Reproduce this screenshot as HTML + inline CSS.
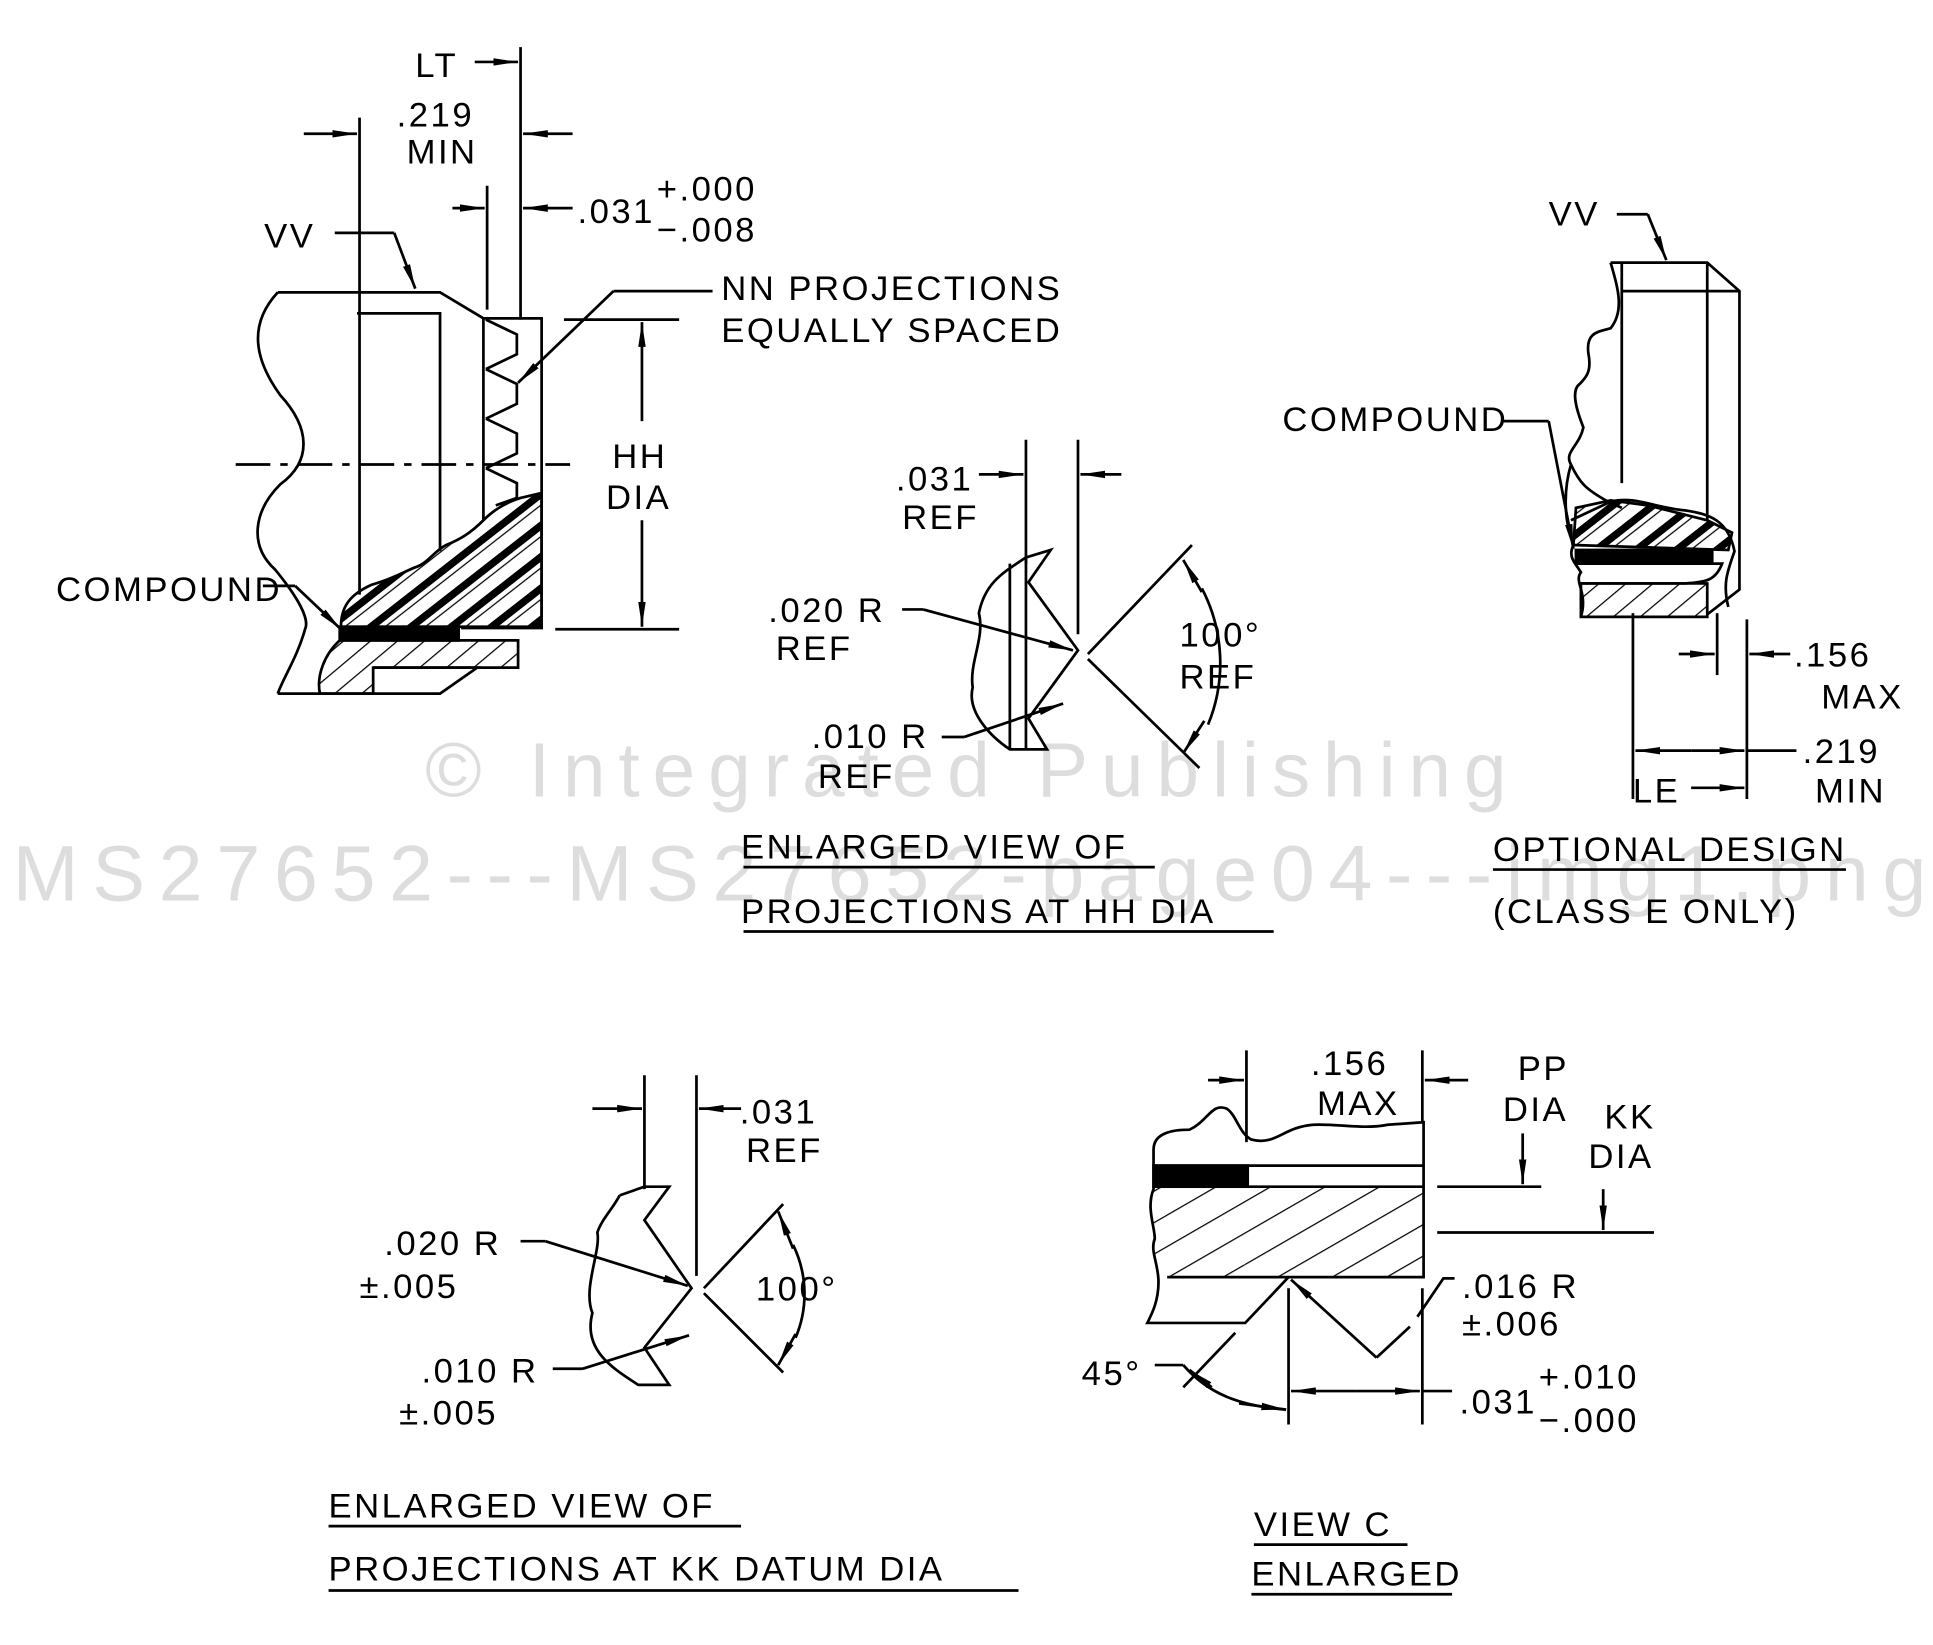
<!DOCTYPE html>
<html><head><meta charset="utf-8"><style>
html,body{margin:0;padding:0;background:#fff}
svg{display:block}
text{font-family:"Liberation Sans",sans-serif;font-size:28px;fill:#000;letter-spacing:2px}
</style></head><body>
<svg width="1933" height="1645" viewBox="0 0 1560 1328" xmlns="http://www.w3.org/2000/svg">
<defs>
<marker id="a" markerUnits="userSpaceOnUse" markerWidth="22" markerHeight="8" refX="20" refY="4" orient="auto"><path d="M0,1 L20,4 L0,7 Z" fill="#000"/></marker>
<pattern id="h1" width="14" height="14" patternUnits="userSpaceOnUse" patternTransform="rotate(-40)"><line x1="0" y1="0" x2="14" y2="0" stroke="#000" stroke-width="2"/></pattern>
<pattern id="h2" width="20" height="20" patternUnits="userSpaceOnUse" patternTransform="rotate(-38)"><rect x="0" y="0" width="20" height="6" fill="#000"/><line x1="0" y1="10" x2="20" y2="10" stroke="#000" stroke-width="1"/></pattern>
<pattern id="h3" width="22" height="22" patternUnits="userSpaceOnUse" patternTransform="rotate(-30)"><line x1="0" y1="0" x2="22" y2="0" stroke="#000" stroke-width="2"/></pattern>
</defs>
<g fill="none" stroke="#000" stroke-width="2.2">
<line x1="290" y1="95" x2="290" y2="480"/>
<line x1="420" y1="38" x2="420" y2="258"/>
<line x1="393" y1="150" x2="393" y2="250"/>
<line x1="383" y1="50" x2="418" y2="50" marker-end="url(#a)"/>
<line x1="245" y1="108" x2="288" y2="108" marker-end="url(#a)"/>
<line x1="462" y1="108" x2="422" y2="108" marker-end="url(#a)"/>
<line x1="365" y1="168" x2="391" y2="168" marker-end="url(#a)"/>
<line x1="462" y1="168" x2="422" y2="168" marker-end="url(#a)"/>
<polyline points="270,188 318,188"/><line x1="318" y1="188" x2="335" y2="233" marker-end="url(#a)"/>
<path d="M224,236 L355,236 L390,257 L437,257 L437,507 L372,507"/>
<polyline points="288,253 355,253 355,445"/>
<line x1="390" y1="257" x2="390" y2="420"/>
<path d="M392,258 L417,270 L417,286 L392,298 M392,298 L417,310 L417,326 L392,338 M392,338 L417,350 L417,366 L392,378 M392,378 L417,390 L417,402 L400,408"/>
<path d="M224,236 C200,262 205,290 226,319 C250,345 252,372 226,391 C205,412 200,440 222,460 C240,482 250,500 246,508 C240,530 228,548 224,560"/>
<line x1="190" y1="375" x2="460" y2="375" stroke-dasharray="28,8,6,8"/>
<path d="M275,506 C275,490 282,480 300,472 C315,468 325,462 335,458 C345,455 350,445 360,440 C372,435 380,430 390,420 C400,410 410,405 420,402 L437,398 L437,506 Z" fill="url(#h2)"/>
<rect x="274" y="506" width="96" height="11" fill="#000"/>
<path d="M274,517 L418,517 L418,539 L301,539 L301,560 L258,560 C255,545 262,528 274,517 Z" fill="url(#h1)"/>
<path d="M301,539 L385,539 L355,560 L224,560"/>
<line x1="455" y1="258" x2="548" y2="258"/><line x1="448" y1="508" x2="548" y2="508"/>
<line x1="518" y1="340" x2="518" y2="260" marker-end="url(#a)"/>
<line x1="518" y1="420" x2="518" y2="506" marker-end="url(#a)"/>
<polyline points="575,235 495,235"/><line x1="495" y1="235" x2="418" y2="309" marker-end="url(#a)"/>
<polyline points="212,473 238,473"/><line x1="238" y1="473" x2="275" y2="508" marker-end="url(#a)"/>

<line x1="828" y1="355" x2="828" y2="455"/>
<line x1="870" y1="355" x2="870" y2="512"/>
<line x1="790" y1="383" x2="826" y2="383" marker-end="url(#a)"/>
<line x1="905" y1="383" x2="872" y2="383" marker-end="url(#a)"/>
<path d="M828,450 L848,444 L830,470 L870,525 L830,580 L845,605 L815,605 C800,595 780,575 785,555 C782,535 795,515 790,495 C795,470 810,462 828,450"/>
<line x1="815" y1="455" x2="815" y2="605"/><line x1="828" y1="450" x2="828" y2="605"/>
<polyline points="728,492 745,492"/><line x1="745" y1="492" x2="866" y2="525" marker-end="url(#a)"/>
<polyline points="760,595 778,595"/><line x1="778" y1="595" x2="858" y2="568" marker-end="url(#a)"/>
<line x1="878" y1="528" x2="962" y2="440"/><line x1="878" y1="532" x2="968" y2="620"/>
<path d="M970,475 A130,130 0 0 1 975,585"/>
<line x1="970" y1="478" x2="955" y2="452" marker-end="url(#a)"/>
<line x1="972" y1="582" x2="955" y2="608" marker-end="url(#a)"/>
<line x1="600" y1="700" x2="932" y2="700"/><line x1="600" y1="752" x2="1028" y2="752"/>

<path d="M1300,212 L1378,212 L1404,235 L1404,476 L1378,496"/>
<line x1="1309" y1="235" x2="1404" y2="235"/>
<line x1="1309" y1="212" x2="1309" y2="390"/>
<line x1="1378" y1="212" x2="1378" y2="420"/>
<path d="M1300,212 C1305,230 1312,250 1300,265 C1290,268 1280,268 1282,285 C1285,300 1280,305 1275,310 C1268,315 1272,330 1278,345 C1275,360 1262,365 1268,375 C1275,390 1280,395 1298,405 L1309,410"/>
<path d="M1268,375 C1262,395 1262,420 1270,440 C1265,450 1272,455 1276,462 C1270,470 1282,478 1276,498"/>
<path d="M1268,420 L1300,405 C1320,400 1335,410 1360,412 C1380,415 1395,420 1400,445 C1395,460 1390,470 1395,490"/>
<path d="M1270,440 L1272,410 L1300,404 L1330,408 L1378,420 L1398,430 L1395,444 Z" fill="url(#h2)"/>
<rect x="1272" y="444" width="110" height="11" fill="#000"/>
<path d="M1272,455 L1390,455 C1385,468 1378,470 1360,471 L1276,471"/>
<path d="M1276,471 L1378,471 L1378,498 L1276,498 Z" fill="url(#h1)"/>
<line x1="1318" y1="495" x2="1318" y2="645"/>
<line x1="1386" y1="495" x2="1386" y2="545"/>
<line x1="1410" y1="500" x2="1410" y2="645"/>
<line x1="1355" y1="528" x2="1384" y2="528" marker-end="url(#a)"/>
<line x1="1445" y1="528" x2="1412" y2="528" marker-end="url(#a)"/>
<line x1="1365" y1="606" x2="1320" y2="606" marker-end="url(#a)"/>
<line x1="1365" y1="606" x2="1408" y2="606" marker-end="url(#a)"/>
<line x1="1410" y1="606" x2="1450" y2="606"/>
<line x1="1365" y1="636" x2="1408" y2="636" marker-end="url(#a)"/>
<polyline points="1212,340 1250,340"/><line x1="1250" y1="340" x2="1270" y2="443" marker-end="url(#a)"/>
<polyline points="1305,173 1330,173"/><line x1="1330" y1="173" x2="1345" y2="210" marker-end="url(#a)"/>
<line x1="1205" y1="702" x2="1490" y2="702"/>

<line x1="520" y1="868" x2="520" y2="960"/>
<line x1="562" y1="868" x2="562" y2="1030"/>
<line x1="478" y1="895" x2="518" y2="895" marker-end="url(#a)"/>
<line x1="598" y1="895" x2="564" y2="895" marker-end="url(#a)"/>
<path d="M500,965 L520,958 L540,958 L520,985 L558,1040 L520,1088 L540,1118 L515,1118 C495,1105 470,1090 478,1060 C470,1040 485,1010 482,995 C485,985 495,975 500,965"/>
<polyline points="420,1002 440,1002"/><line x1="440" y1="1002" x2="555" y2="1038" marker-end="url(#a)"/>
<polyline points="446,1105 470,1105"/><line x1="470" y1="1105" x2="556" y2="1078" marker-end="url(#a)"/>
<line x1="568" y1="1040" x2="632" y2="972"/><line x1="568" y1="1044" x2="632" y2="1108"/>
<path d="M640,1005 A90,90 0 0 1 642,1080"/>
<line x1="640" y1="1008" x2="628" y2="978" marker-end="url(#a)"/>
<line x1="642" y1="1077" x2="628" y2="1102" marker-end="url(#a)"/>
<line x1="265" y1="1232" x2="598" y2="1232"/><line x1="265" y1="1284" x2="822" y2="1284"/>

<path d="M931,958 L1149,958 L1149,1031 L931,1031 Z" fill="url(#h3)" stroke="none"/>
<rect x="931" y="941" width="76" height="17" fill="#000"/>
<path d="M931,928 C931,915 945,912 960,912 C975,905 978,890 990,895 C998,900 1000,915 1010,920 C1030,925 1035,910 1060,908 C1080,907 1100,912 1120,908 L1149,906 L1149,1031 L942,1031"/>
<line x1="931" y1="941" x2="1149" y2="941"/><line x1="931" y1="958" x2="1149" y2="958"/>
<path d="M931,928 L931,960 C925,975 932,990 932,1000 C928,1010 935,1020 935,1035 C935,1050 930,1060 926,1068 L1005,1068 L1040,1031"/>
<line x1="1006" y1="848" x2="1006" y2="922"/><line x1="1148" y1="848" x2="1148" y2="905"/>
<line x1="975" y1="872" x2="1004" y2="872" marker-end="url(#a)"/>
<line x1="1185" y1="872" x2="1150" y2="872" marker-end="url(#a)"/>
<line x1="1229" y1="915" x2="1229" y2="956" marker-end="url(#a)"/>
<line x1="1160" y1="958" x2="1244" y2="958"/>
<line x1="1294" y1="960" x2="1294" y2="993" marker-end="url(#a)"/>
<line x1="1160" y1="995" x2="1335" y2="995"/>
<line x1="1040" y1="1040" x2="1040" y2="1150"/><line x1="1148" y1="1040" x2="1148" y2="1150"/>
<line x1="1094" y1="1123" x2="1042" y2="1123" marker-end="url(#a)"/>
<line x1="1094" y1="1123" x2="1146" y2="1123" marker-end="url(#a)"/>
<line x1="1148" y1="1123" x2="1172" y2="1123"/>
<polyline points="1174,1032 1165,1032 1144,1063"/>
<polyline points="1138,1071 1111,1096"/><line x1="1111" y1="1096" x2="1042" y2="1033" marker-end="url(#a)"/>
<polyline points="932,1102 955,1102"/>
<line x1="955" y1="1120" x2="997" y2="1076"/>
<path d="M955,1102 C975,1125 1000,1135 1038,1138"/>
<line x1="1000" y1="1133" x2="1038" y2="1138" marker-end="url(#a)"/>
<line x1="978" y1="1120" x2="960" y2="1106" marker-end="url(#a)"/>
<line x1="1012" y1="1247" x2="1136" y2="1247"/><line x1="1010" y1="1287" x2="1172" y2="1287"/>
</g>
<g>
<text x="335" y="62">LT</text>
<text x="320" y="102">.219</text><text x="328" y="132">MIN</text>
<text x="466" y="180">.031</text><text x="530" y="162">+.000</text><text x="530" y="195">−.008</text>
<text x="213" y="200">VV</text>
<text x="582" y="242">NN PROJECTIONS</text><text x="582" y="276">EQUALLY SPACED</text>
<text x="494" y="378">HH</text><text x="489" y="411">DIA</text>
<text x="45" y="485">COMPOUND</text>
<text x="723" y="396">.031</text><text x="728" y="427">REF</text>
<text x="620" y="502">.020 R</text><text x="626" y="533">REF</text>
<text x="655" y="604">.010 R</text><text x="660" y="636">REF</text>
<text x="952" y="522">100°</text><text x="952" y="556">REF</text>
<text x="598" y="693">ENLARGED VIEW OF</text>
<text x="598" y="745">PROJECTIONS AT HH DIA</text>
<text x="1250" y="182">VV</text>
<text x="1035" y="348">COMPOUND</text>
<text x="1448" y="538">.156</text><text x="1470" y="572">MAX</text>
<text x="1455" y="616">.219</text><text x="1465" y="648">MIN</text>
<text x="1318" y="648">LE</text>
<text x="1205" y="695">OPTIONAL DESIGN</text>
<text x="1205" y="745">(CLASS E ONLY)</text>
<text x="597" y="907">.031</text><text x="602" y="938">REF</text>
<text x="310" y="1013">.020 R</text><text x="290" y="1048">±.005</text>
<text x="340" y="1116">.010 R</text><text x="322" y="1150">±.005</text>
<text x="610" y="1050">100°</text>
<text x="265" y="1225">ENLARGED VIEW OF</text>
<text x="265" y="1276">PROJECTIONS AT KK DATUM DIA</text>
<text x="1058" y="868">.156</text><text x="1063" y="900">MAX</text>
<text x="1225" y="872">PP</text><text x="1213" y="905">DIA</text>
<text x="1295" y="911">KK</text><text x="1282" y="943">DIA</text>
<text x="1180" y="1048">.016 R</text><text x="1180" y="1078">±.006</text>
<text x="1178" y="1141">.031</text><text x="1242" y="1121">+.010</text><text x="1242" y="1156">−.000</text>
<text x="873" y="1118">45°</text>
<text x="1012" y="1240">VIEW C</text>
<text x="1010" y="1280">ENLARGED</text>
</g>
<g fill="#000" opacity="0.13">
<text x="343" y="643" style="font-size:62px;letter-spacing:2px" textLength="875">© Integrated Publishing</text>
<text x="10" y="727" style="font-size:64px;letter-spacing:0" textLength="1545">MS27652---MS27652-page04---img1.png</text>
</g>
</svg>
</body></html>
